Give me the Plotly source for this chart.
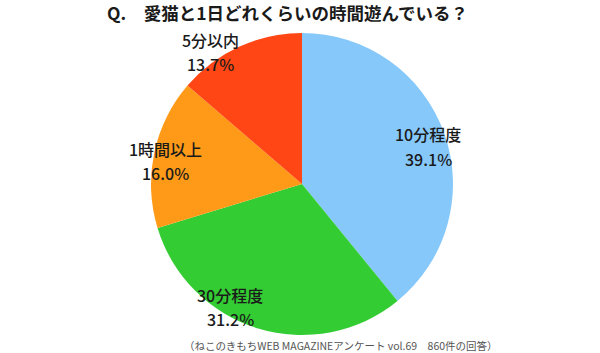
import plotly.graph_objects as go

categories = ["10分程度", "30分程度", "1時間以上", "5分以内"]
values = [39.1, 31.2, 16.0, 13.7]
colors = ["#86C8FA", "#33CC33", "#FF9A19", "#FF4614"]

title_text = "Q.　愛猫と1日どれくらいの時間遊んでいる？"
source_text = "（ねこのきもちWEB MAGAZINEアンケート vol.69　860件の回答）"

W, H = 600, 353
# label centres in pixels (name line, percent line)
label_pos = [((428, 134), (428, 159)),
             ((230, 295), (230, 319)),
             ((165, 149), (165, 173)),
             ((210, 40), (210, 64))]

FONT = "Noto Sans CJK JP"

fig = go.Figure(go.Pie(
    labels=categories,
    values=values,
    sort=False,
    direction="clockwise",
    rotation=0,
    marker=dict(colors=colors, line=dict(width=0)),
    textinfo="none",
    hoverinfo="label+percent",
    showlegend=False,
    domain=dict(x=[151 / W, 453 / W], y=[1 - 335 / H, 1 - 33 / H]),
))

ann = []
for cat, val, (p1, p2) in zip(categories, values, label_pos):
    for txt, (px, py) in ((cat, p1), (f"{val:.1f}%", p2)):
        ann.append(dict(text=txt, x=px / W, y=1 - py / H, xref="paper", yref="paper",
                        xanchor="center", yanchor="middle", showarrow=False,
                        font=dict(family=FONT, size=16, color="#1a1a1a", weight=500)))

ann.append(dict(text=title_text, x=105 / W, y=1 - 12 / H, xref="paper", yref="paper",
                xanchor="left", yanchor="middle", showarrow=False,
                font=dict(family=FONT, size=17.5, color="#1a1a1a", weight="bold")))
ann.append(dict(text=source_text, x=182 / W, y=1 - 345 / H, xref="paper", yref="paper",
                xanchor="left", yanchor="middle", showarrow=False,
                font=dict(family=FONT, size=10.5, color="#555555")))

fig.update_layout(
    width=W, height=H,
    margin=dict(l=0, r=0, t=0, b=0),
    paper_bgcolor="white",
    plot_bgcolor="white",
    annotations=ann,
)

fig.write_html("out.html")
